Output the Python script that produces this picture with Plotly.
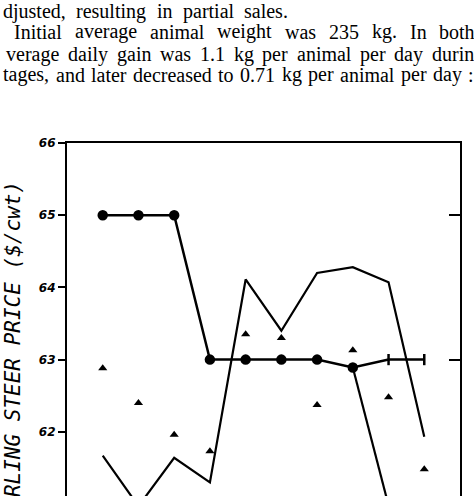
import plotly.graph_objects as go

# ---- data ----
periods = [1, 2, 3, 4, 5, 6, 7, 8, 9, 10]
price_circle = [65.0, 65.0, 65.0, 63.0, 63.0, 63.0, 63.0, 62.89, 63.0, 63.0]
circle_symbols = ["circle"] * 8 + ["line-ns"] * 2
price_triangle = [62.88, 62.40, 61.96, 61.73, 63.35, 63.30, 62.37, 63.13, 62.48, 61.48]
price_thin = [61.67, 60.97, 61.64, 61.30, 64.11, 63.40, 64.20, 64.28, 64.07, 61.93]
drop_x = [8, 9]
drop_y = [62.89, 60.98]

y_ticks = [62, 63, 64, 65, 66]
y_ticktext = ["62", "63", "64", "65", "66"]
right_ticks = [63, 65]

text_lines = [
    "djusted, resulting in partial sales.",
    "Initial average animal weight was 235 kg. In both",
    "verage daily gain was 1.1 kg per animal per day during",
    "tages, and later decreased to 0.71 kg per animal per day :",
]
y_title = "YEARLING STEER PRICE ($/cwt)"

W, H = 474, 496
L, R, T, B = 67, 14, 143, 0
plot_h = H - T - B
plot_w = W - L - R

def py(pix):
    return (H - B - pix) / plot_h

def px(pix):
    return (pix - L) / plot_w

fig = go.Figure()
fig.add_trace(go.Scatter(x=periods, y=price_thin, mode="lines",
                         line=dict(color="black", width=2.2), hoverinfo="skip"))
fig.add_trace(go.Scatter(x=drop_x, y=drop_y, mode="lines",
                         line=dict(color="black", width=2.2), hoverinfo="skip"))
fig.add_trace(go.Scatter(x=periods, y=price_circle, mode="lines+markers",
                         line=dict(color="black", width=2.5),
                         marker=dict(symbol=circle_symbols, size=8, color="black",
                                     line=dict(color="black", width=2.5)),
                         hoverinfo="skip"))
fig.add_trace(go.Scatter(x=periods, y=price_triangle, mode="markers",
                         marker=dict(symbol="triangle-up", size=8, color="black"),
                         hoverinfo="skip"))
fig.add_trace(go.Scatter(x=[None], y=[None], yaxis="y2", showlegend=False))

yr = [66 - plot_h / 72.2, 66]

fig.update_layout(
    width=W, height=H,
    margin=dict(l=L, r=R, t=T, b=B, pad=0),
    paper_bgcolor="white", plot_bgcolor="white",
    showlegend=False,
    xaxis=dict(range=[0, 11], side="top", showline=True, linecolor="black", linewidth=2,
               ticks="", showticklabels=False, showgrid=False, zeroline=False),
    yaxis=dict(range=yr, showline=True, linecolor="black", linewidth=2.2,
               ticks="outside", ticklen=7, tickwidth=1.5, tickcolor="black",
               tickvals=y_ticks, ticktext=y_ticktext,
               tickfont=dict(family="DejaVu Sans", size=12, color="black",
                             weight="bold", style="italic"),
               ticklabelstandoff=0,
               showgrid=False, zeroline=False),
    yaxis2=dict(range=yr, overlaying="y", side="right", showline=True,
                linecolor="black", linewidth=2.2, ticks="inside", ticklen=11,
                tickwidth=2, tickcolor="black", tickvals=right_ticks,
                showticklabels=False, showgrid=False, zeroline=False),
)

# ---- justified body text (Times / Liberation Serif advance widths, 1/1000 em) ----
ADV = {c: 500 for c in "bdghknopquvxy0123456789"}
ADV.update({"a": 444, "c": 444, "e": 444, "z": 444, "f": 333, "r": 333, "s": 389,
            "i": 278, "j": 278, "l": 278, "t": 278, "m": 778, "w": 722, "I": 333,
            ".": 250, ",": 250, ":": 278, " ": 250})
FS = 20
body_font = dict(family="Liberation Serif", size=FS, color="black")

def word_w(w):
    return sum(ADV.get(c, 500) for c in w) * FS / 1000.0

# (left edge, right edge, vertical centre) of each line, in pixels, from the scan
line_geom = [(2, 287, 11), (13, 474, 32), (5, 483, 54), (2, 473, 75)]

annotations = []
for text, (x0, x1, yy) in zip(text_lines, line_geom):
    words = text.split(" ")
    widths = [word_w(w) for w in words]
    gap = (x1 - x0 - sum(widths)) / (len(words) - 1)
    cur = x0
    for w, ww in zip(words, widths):
        annotations.append(dict(text=w, xref="paper", yref="paper", x=px(cur), y=py(yy),
                                xanchor="left", yanchor="middle", showarrow=False,
                                font=body_font, borderpad=0))
        cur += ww + gap

annotations.append(dict(text=y_title, xref="paper", yref="paper", x=px(13), y=py(179),
                        xanchor="center", yanchor="top", textangle=-90, showarrow=False,
                        font=dict(family="DejaVu Sans Mono", size=21, color="black",
                                  style="italic")))
fig.update_layout(annotations=annotations)

fig.write_html("out.html")
